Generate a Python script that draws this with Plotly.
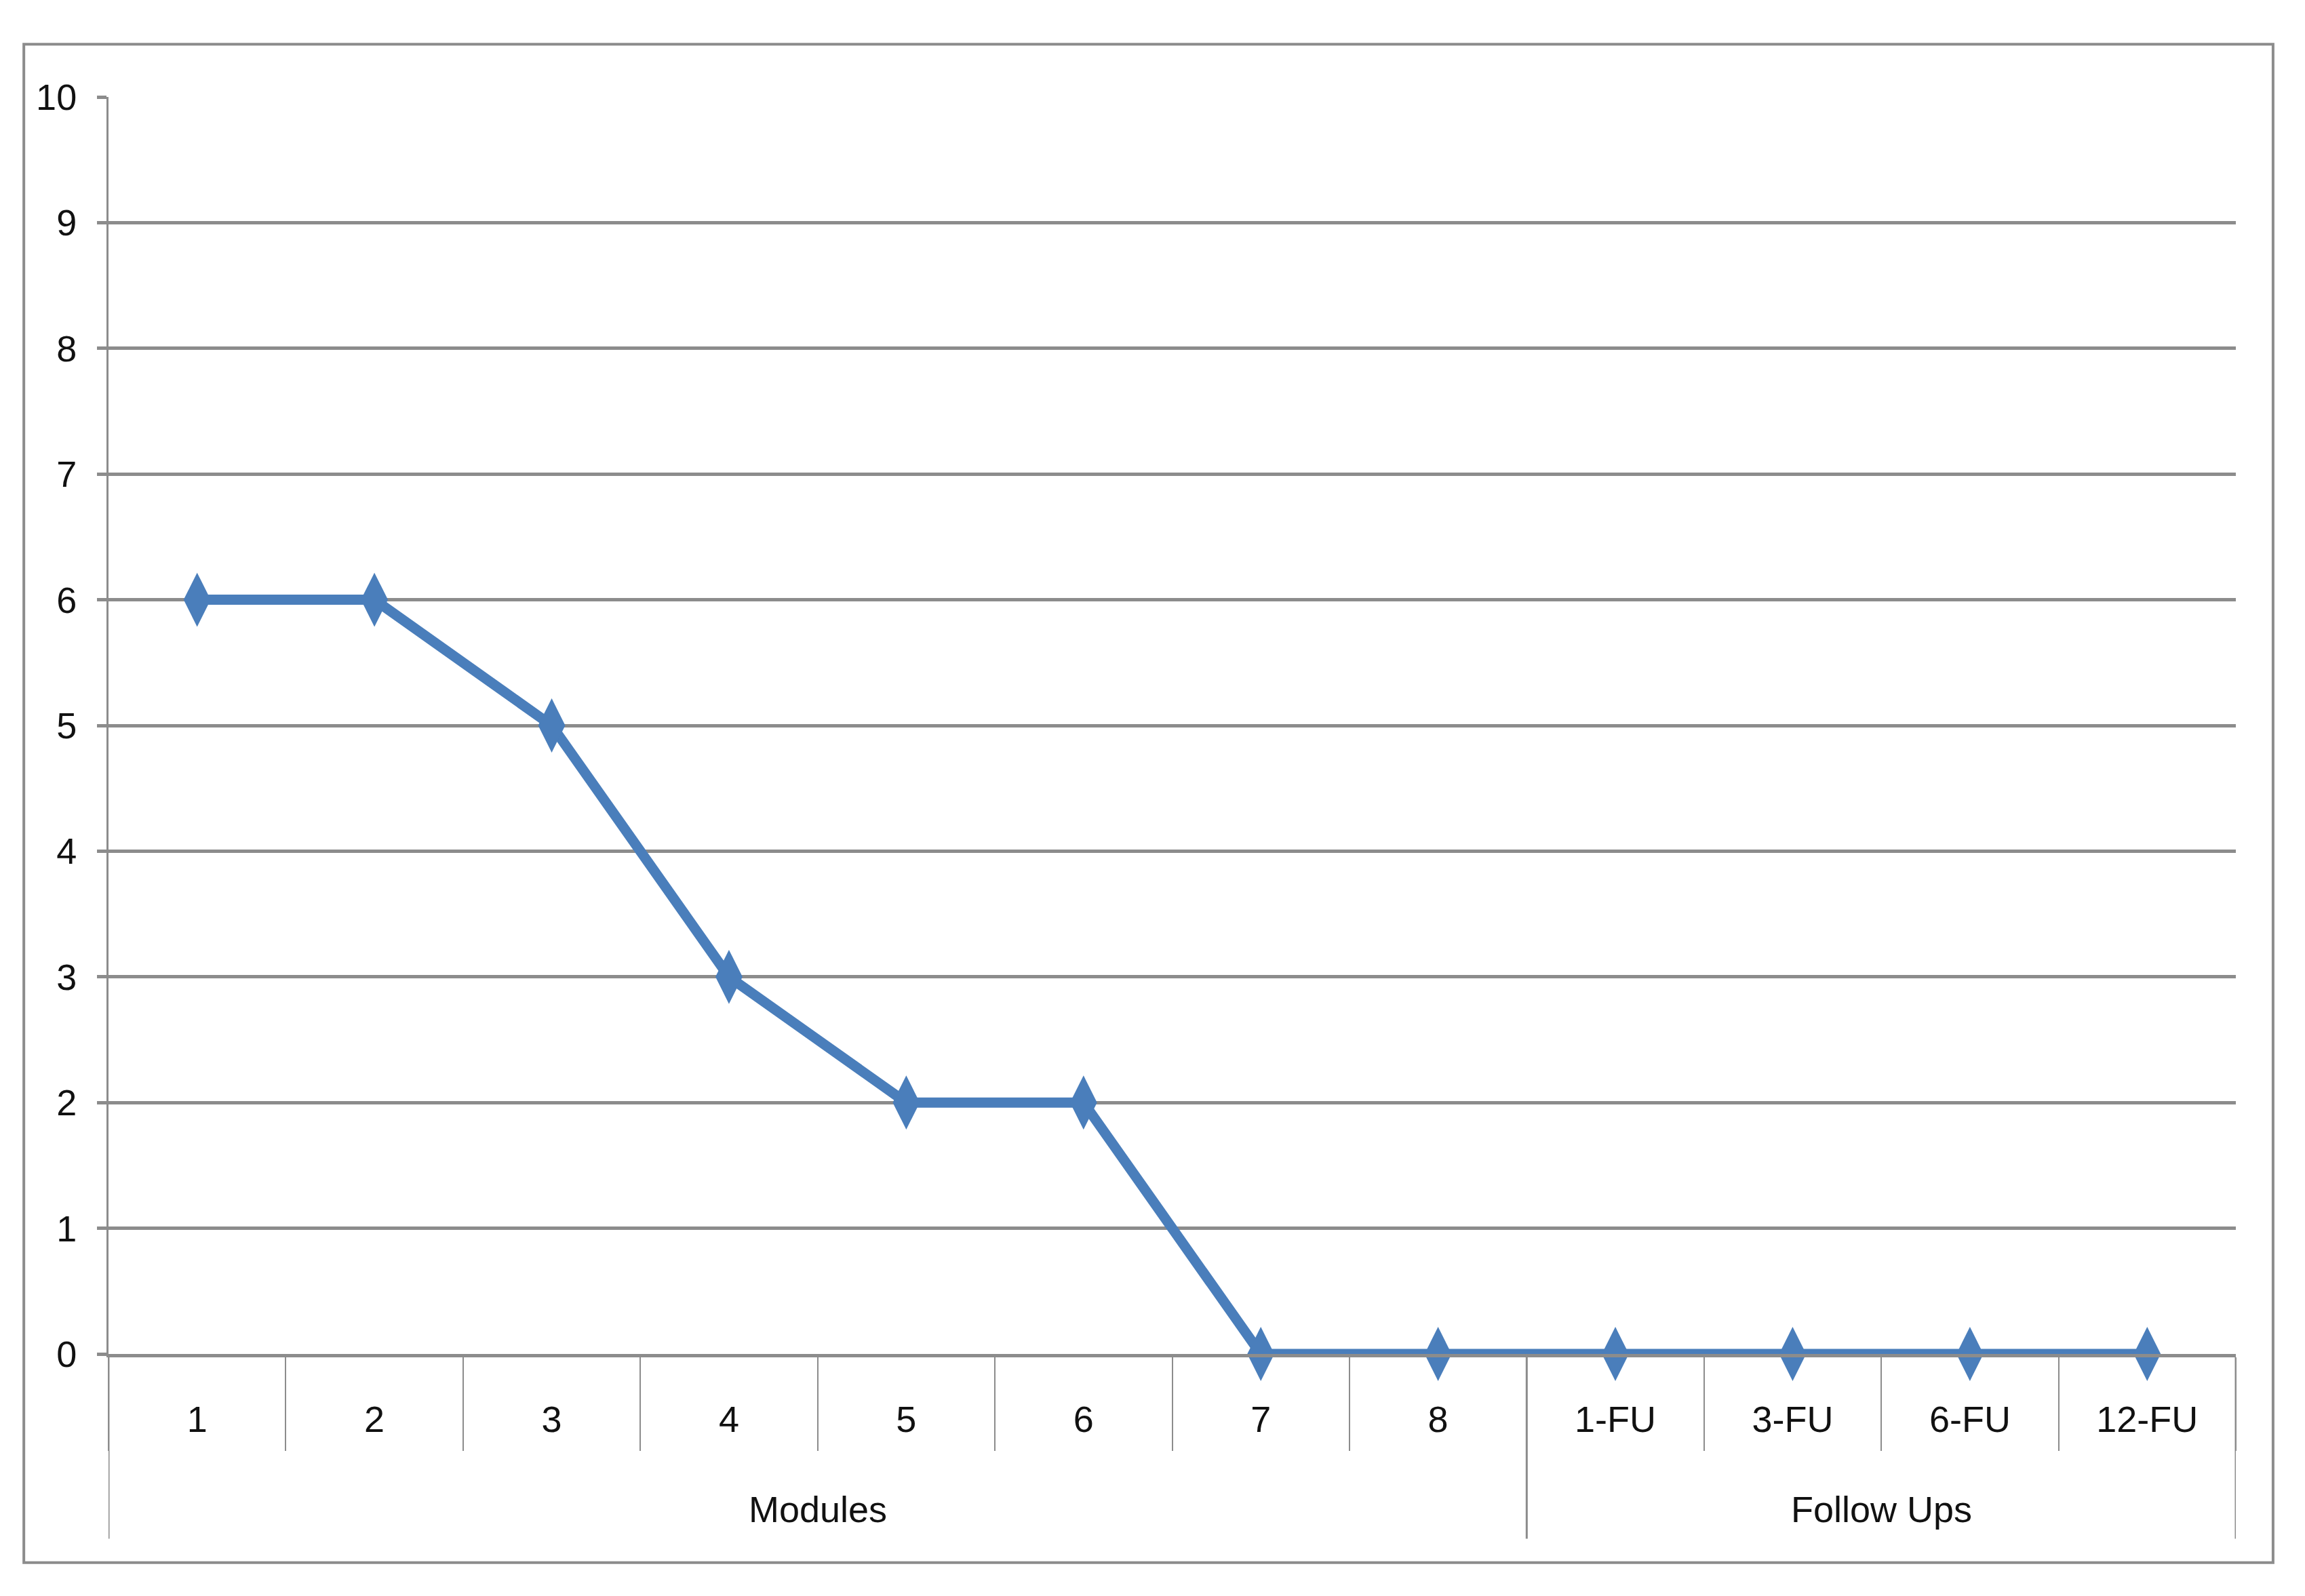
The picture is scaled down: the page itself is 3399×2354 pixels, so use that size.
import plotly.graph_objects as go

# category labels and the group each belongs to
stages = ["1", "2", "3", "4", "5", "6", "7", "8", "1-FU", "3-FU", "6-FU", "12-FU"]
groups = ["Modules", "Follow Ups"]
group_sizes = [8, 4]
values = [6, 6, 5, 3, 2, 2, 0, 0, 0, 0, 0, 0]

grey = "#8c8c8c"
blue = "#4a7ebb"
font_family = "Liberation Sans, Arial, sans-serif"

fig = go.Figure()

fig.add_trace(go.Scatter(
    x=stages,
    y=values,
    mode="lines+markers",
    line=dict(color=blue, width=15),
    marker=dict(symbol="diamond-tall", size=57, color=blue),
    cliponaxis=False,
    showlegend=False,
))

# group labels under the category labels, and the long dividers between groups
start = -0.5
fig.add_shape(type="line", xref="x", yref="paper", x0=start, x1=start, y0=0, y1=-0.147,
              line=dict(color=grey, width=3))
for name, n in zip(groups, group_sizes):
    fig.add_annotation(x=start + n / 2, y=-0.141, xref="x", yref="paper", text=name,
                       showarrow=False, font=dict(size=54, color="#111111", family=font_family))
    start += n
    fig.add_shape(type="line", xref="x", yref="paper", x0=start, x1=start, y0=0, y1=-0.147,
                  line=dict(color=grey, width=3))

# outer chart border
fig.add_shape(type="rect", xref="paper", yref="paper", x0=-0.0398, x1=1.0175, y0=-0.166, y1=1.042,
              line=dict(color=grey, width=4))

fig.update_xaxes(
    type="category",
    range=[-0.5, len(stages) - 0.5],
    showgrid=False,
    showline=True, linecolor=grey, linewidth=5,
    ticks="outside", tickson="boundaries", ticklen=138, tickcolor=grey, tickwidth=2,
    ticklabelstandoff=45,
    tickfont=dict(size=54, color="#111111", family=font_family),
)
fig.update_yaxes(
    range=[0, 10], dtick=1,
    showgrid=True, gridcolor=grey, gridwidth=5,
    showline=True, linecolor=grey, linewidth=3,
    zeroline=False,
    ticks="outside", ticklen=14, tickcolor=grey, tickwidth=5,
    ticklabelstandoff=19,
    tickfont=dict(size=54, color="#111111", family=font_family),
)

fig.update_layout(
    width=3399, height=2354,
    margin=dict(l=152, r=110, t=135, b=365),
    plot_bgcolor="white", paper_bgcolor="white",
)

fig.write_html("out.html")
